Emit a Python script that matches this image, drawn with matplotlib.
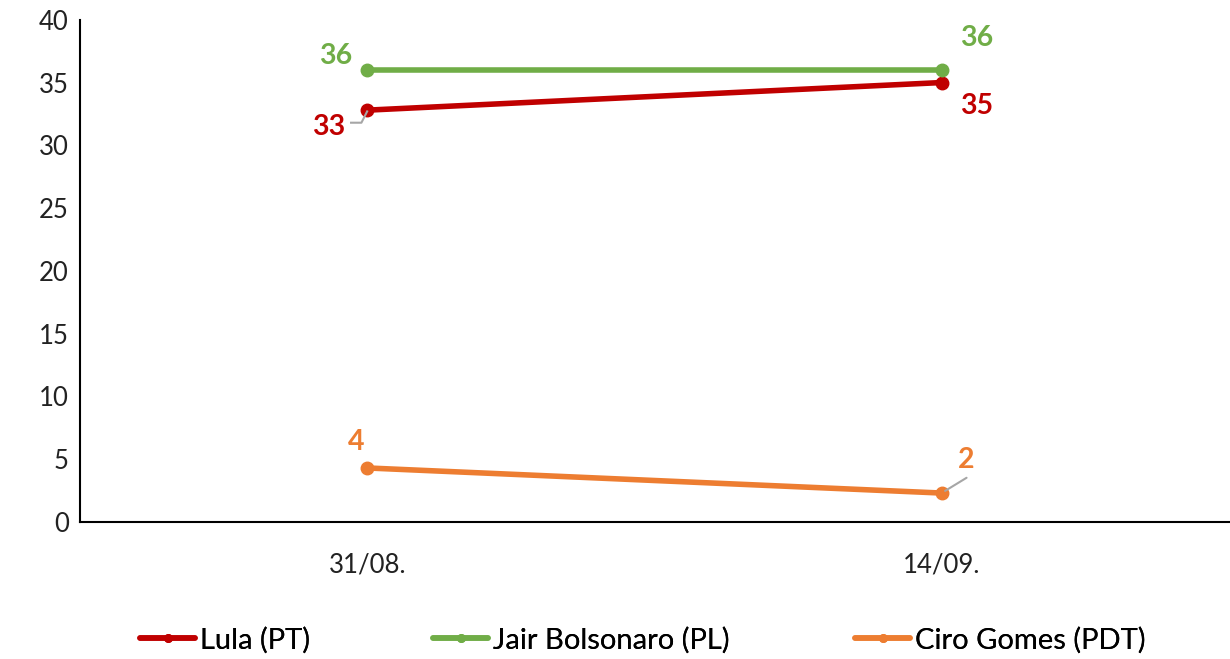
import matplotlib.pyplot as plt

dates = ['31/08.', '14/09.']
lula = [32.8, 35.0]
bolsonaro = [36.0, 36.0]
ciro = [4.3, 2.3]
series_names = ['Lula (PT)', 'Jair Bolsonaro (PL)', 'Ciro Gomes (PDT)']
colors = ['#C00000', '#70AD47', '#ED7D31']
legend_x = [140 / 1230, 433 / 1230, 855 / 1230]

plt.rcParams['font.family'] = ['Lato', 'DejaVu Sans']

fig = plt.figure(figsize=(12.3, 6.59), dpi=100)
ax = fig.add_axes([0.065, 0.208, 0.934, 0.762])

x = range(len(dates))
lines = []
for vals, name, c in zip([lula, bolsonaro, ciro], series_names, colors):
    ln, = ax.plot(x, vals, color=c, lw=4, marker='o', ms=9, label=name,
                  solid_capstyle='round')
    lines.append(ln)

ax.set_xlim(-0.5, 1.5)
ax.set_ylim(0, 40)
ax.set_yticks(range(0, 41, 5))
ax.set_xticks(list(x))
ax.set_xticklabels(dates)
ax.tick_params(axis='both', length=0, labelsize=18.5, colors='#222222', pad=8)
ax.tick_params(axis='x', pad=22)
for s in ['top', 'right']:
    ax.spines[s].set_visible(False)
for s in ['left', 'bottom']:
    ax.spines[s].set_color('black')
    ax.spines[s].set_linewidth(1.5)

lab = dict(fontsize=20.5, fontweight='bold', ha='center', va='center')
# Bolsonaro
ax.annotate(f'{bolsonaro[0]:.0f}', (0, bolsonaro[0]), xytext=(-23, 10),
            textcoords='offset points', color=colors[1], **lab)
ax.annotate(f'{bolsonaro[1]:.0f}', (1, bolsonaro[1]), xytext=(25, 23),
            textcoords='offset points', color=colors[1], **lab)
# Lula
ax.annotate(f'{lula[0]:.0f}', (0, lula[0]), xytext=(-28, -12),
            textcoords='offset points', color=colors[0], **lab)
ax.plot([0 - 0.028, 0 - 0.01, 0], [31.8, 31.8, 32.7], color='#A6A6A6', lw=1.5)
ax.annotate(f'{lula[1]:.0f}', (1, lula[1]), xytext=(25, -17),
            textcoords='offset points', color=colors[0], **lab)
# Ciro
ax.annotate(f'{ciro[0]:.0f}', (0, ciro[0]), xytext=(-8, 19),
            textcoords='offset points', color=colors[2], **lab)
ax.annotate(f'{ciro[1]:.0f}', (1, ciro[1]), xytext=(18, 24),
            textcoords='offset points', color=colors[2], **lab)
ax.annotate('', (1, ciro[1]), xytext=(18, 11), textcoords='offset points',
            arrowprops=dict(arrowstyle='-', color='#A6A6A6', lw=1.5,
                            shrinkA=0, shrinkB=3))

for ln, lx in zip(lines, legend_x):
    leg = fig.legend(handles=[ln], loc='center left', frameon=False,
                     fontsize=21, bbox_to_anchor=(lx, 1 - 640 / 659),
                     handlelength=1.9, handletextpad=0.15, borderaxespad=0,
                     borderpad=0, markerscale=0.6)
    fig.add_artist(leg)

fig.savefig('out.png', dpi=100)
